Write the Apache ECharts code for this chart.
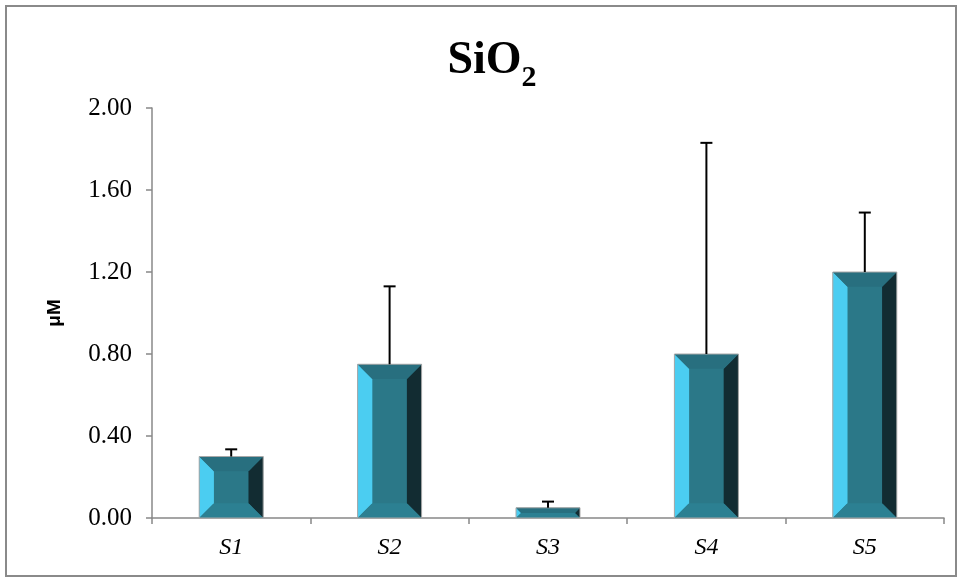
<!DOCTYPE html>
<html>
<head>
<meta charset="utf-8">
<script src="https://cdn.jsdelivr.net/npm/echarts@6/dist/echarts.min.js"></script>
<style>html,body{margin:0;padding:0;background:#fff}#c{width:959px;height:579px}</style>
</head>
<body>
<div id="c"></div>
<script>
const categories = ['S1', 'S2', 'S3', 'S4', 'S5'];
const means = [0.30, 0.75, 0.05, 0.80, 1.20];
const errors = [0.035, 0.38, 0.03, 1.03, 0.29];
const yTicks = [0, 0.4, 0.8, 1.2, 1.6, 2.0];

const SERIF = "'Liberation Serif', 'Times New Roman', Times, serif";
const SANS = "'Liberation Sans', Arial, sans-serif";

const chart = echarts.init(document.getElementById('c'), null, {renderer: 'canvas'});

function bevelBar(params, api) {
  const xi = api.value(0), v = api.value(1);
  const top = api.coord([xi, v]);
  const bot = api.coord([xi, 0]);
  const w = api.size([1, 0])[0] * 0.404;
  const x0 = top[0] - w / 2, x1 = top[0] + w / 2;
  const y0 = top[1], y1 = bot[1];
  const h = y1 - y0;
  const b = Math.min(15, w * 0.23, h / 2);
  return {
    type: 'group',
    children: [
      {type: 'rect', shape: {x: x0, y: y0, width: w, height: h}, style: {fill: '#2b7888'}},
      {type: 'polygon', shape: {points: [[x0, y0], [x0 + b, y0 + b], [x0 + b, y1 - b], [x0, y1]]}, style: {fill: '#4bcdf1'}},
      {type: 'polygon', shape: {points: [[x1, y0], [x1 - b, y0 + b], [x1 - b, y1 - b], [x1, y1]]}, style: {fill: '#122c32'}},
      {type: 'polygon', shape: {points: [[x0, y0], [x1, y0], [x1 - b, y0 + b], [x0 + b, y0 + b]]}, style: {fill: '#286f7f'}},
      {type: 'polygon', shape: {points: [[x0, y1], [x1, y1], [x1 - b, y1 - b], [x0 + b, y1 - b]]}, style: {fill: '#2c8092'}},
      {type: 'rect', shape: {x: x0, y: y0, width: w, height: h}, style: {fill: 'none', stroke: '#a8a8a8', lineWidth: 1}}
    ]
  };
}

function errBar(params, api) {
  const xi = api.value(0), v = api.value(1), e = api.value(2);
  const p0 = api.coord([xi, v]);
  const p1 = api.coord([xi, v + e]);
  const cw = 6;
  const st = {stroke: '#000', lineWidth: 2};
  return {
    type: 'group',
    children: [
      {type: 'line', shape: {x1: p0[0], y1: p0[1], x2: p1[0], y2: p1[1]}, style: st},
      {type: 'line', shape: {x1: p1[0] - cw, y1: p1[1], x2: p1[0] + cw, y2: p1[1]}, style: st}
    ]
  };
}

chart.setOption({
  backgroundColor: '#ffffff',
  animation: false,
  title: {
    text: '{a|SiO}{b|2}',
    left: 487, top: 30, textAlign: 'center',
    textStyle: {
      rich: {
        a: {fontFamily: SERIF, fontWeight: 'bold', fontSize: 46, color: '#000', lineHeight: 52, verticalAlign: 'middle'},
        b: {fontFamily: SERIF, fontWeight: 'bold', fontSize: 30, color: '#000', lineHeight: 52, verticalAlign: 'bottom', padding: [0, 0, -6, 0]}
      }
    }
  },
  grid: {left: 152, right: 15, top: 108, bottom: 61},
  xAxis: {
    type: 'category',
    data: categories,
    axisLine: {lineStyle: {color: '#888', width: 1.5}},
    axisTick: {show: true, alignWithLabel: false, length: 6, lineStyle: {color: '#888', width: 1.5}},
    axisLabel: {fontFamily: SERIF, fontStyle: 'italic', fontSize: 24, color: '#000', margin: 18}
  },
  yAxis: {
    type: 'value',
    min: 0, max: 2, interval: 0.4,
    name: 'μM',
    nameLocation: 'middle',
    nameGap: 88,
    nameRotate: 90,
    nameTextStyle: {fontFamily: SANS, fontWeight: 'bold', fontSize: 19, color: '#000'},
    axisLine: {show: true, lineStyle: {color: '#888', width: 1.5}},
    axisTick: {show: true, length: 6, lineStyle: {color: '#888', width: 1.5}},
    splitLine: {show: false},
    axisLabel: {
      fontFamily: SERIF, fontSize: 25, color: '#000', margin: 20,
      formatter: v => (yTicks.some(t => Math.abs(t - v) < 1e-9) ? v.toFixed(2) : '')
    }
  },
  graphic: [
    {type: 'rect', shape: {x: 6, y: 6, width: 950, height: 570}, style: {fill: 'none', stroke: '#8a8a8a', lineWidth: 2}, z: 100}
  ],
  series: [
    {
      type: 'custom',
      renderItem: bevelBar,
      data: categories.map((c, i) => [i, means[i]]),
      encode: {x: 0, y: 1},
      z: 2
    },
    {
      type: 'custom',
      renderItem: errBar,
      data: categories.map((c, i) => [i, means[i], errors[i]]),
      encode: {x: 0, y: 1},
      z: 3
    }
  ]
});
</script>
</body>
</html>
